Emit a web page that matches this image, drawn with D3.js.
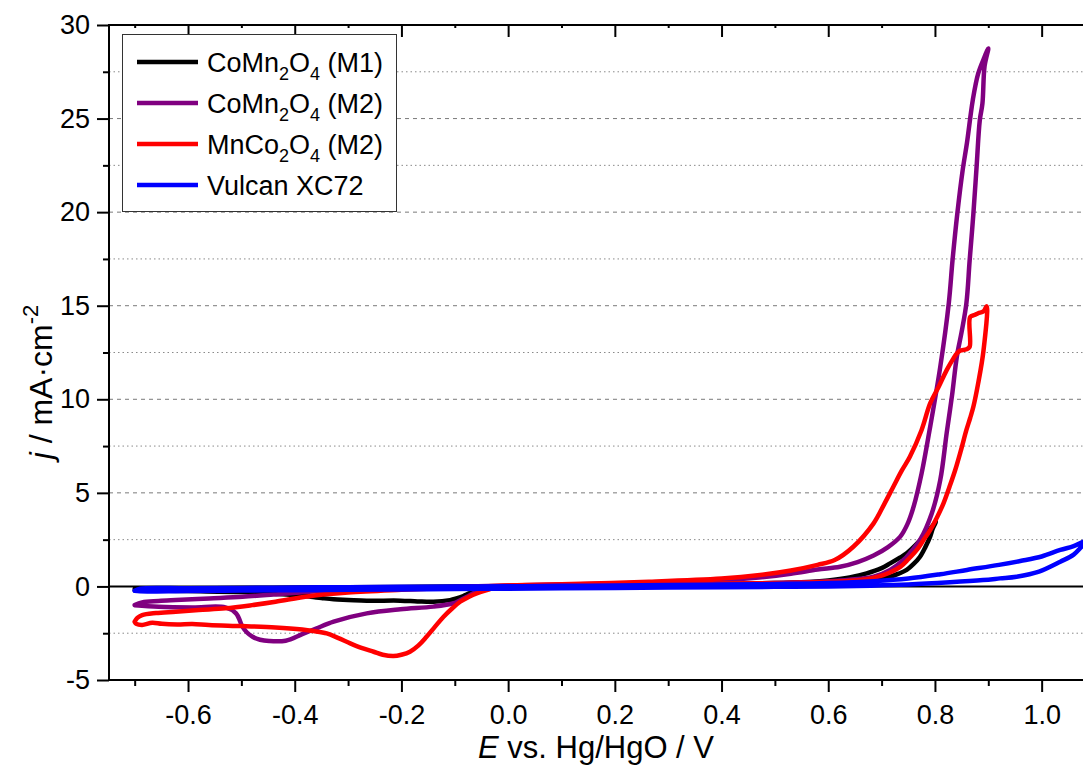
<!DOCTYPE html>
<html>
<head>
<meta charset="utf-8">
<script src="https://cdn.jsdelivr.net/npm/d3@7"></script>
<style>
  html, body { margin: 0; padding: 0; background: #fff; }
  svg { display: block; font-family: Arial, "Liberation Sans", sans-serif; }
</style>
</head>
<body>
<svg id="chart" width="1083" height="769"></svg>
<script>
// ---- Cyclic voltammograms: potential E (V vs. Hg/HgO) and current density j (mA cm^-2)
// Each series is one closed sweep loop, listed in sweep order.

const seriesNames = ["CoMn_2O_4 (M1)", "CoMn_2O_4 (M2)", "MnCo_2O_4 (M2)", "Vulcan XC72"];
const seriesColors = ["#000000", "#800080", "#ff0000", "#0000ff"];

const coMnM1_E = [-0.70, -0.60, -0.50, -0.40, -0.30, -0.20, -0.10, 0.00, 0.10, 0.20, 0.30, 0.40, 0.50, 0.55, 0.60, 0.64, 0.672, 0.70, 0.716, 0.735, 0.747, 0.765, 0.778, 0.79, 0.802,
  0.796, 0.791, 0.782, 0.772, 0.760, 0.747, 0.732, 0.716, 0.695, 0.672, 0.64, 0.60, 0.50, 0.40, 0.30, 0.20, 0.10, 0.00, -0.02, -0.04, -0.059, -0.072, -0.084, -0.097, -0.109, -0.14, -0.17, -0.202, -0.265, -0.30, -0.327, -0.35, -0.37, -0.40, -0.45, -0.50, -0.60, -0.70];
const coMnM1_j = [-0.13, -0.11, -0.09, -0.07, -0.05, -0.03, -0.01, 0.02, 0.04, 0.06, 0.09, 0.12, 0.18, 0.22, 0.32, 0.48, 0.70, 0.98, 1.23, 1.55, 1.77, 2.25, 2.66, 3.05, 3.46,
  3.10, 2.66, 2.10, 1.59, 1.20, 0.88, 0.68, 0.52, 0.38, 0.30, 0.22, 0.17, 0.11, 0.07, 0.04, 0.02, 0.00, -0.02, -0.05, -0.12, -0.23, -0.36, -0.51, -0.64, -0.73, -0.82, -0.80, -0.76, -0.76, -0.72, -0.69, -0.62, -0.55, -0.46, -0.36, -0.30, -0.25, -0.20];

const coMnM2_E = [-0.70, -0.686, -0.655, -0.623, -0.56, -0.498, -0.44, -0.373, -0.30, -0.20, -0.10, 0.00, 0.10, 0.20, 0.30, 0.40, 0.47, 0.53, 0.58, 0.622, 0.655, 0.685, 0.712, 0.735, 0.748, 0.760, 0.775, 0.79, 0.810, 0.826, 0.833, 0.842, 0.852, 0.860, 0.871, 0.881, 0.893, 0.900,
  0.893, 0.889, 0.884, 0.878, 0.872, 0.865, 0.859, 0.850, 0.841, 0.832, 0.822, 0.81, 0.794, 0.772, 0.755, 0.741, 0.716, 0.685, 0.64, 0.60, 0.50, 0.40, 0.30, 0.20, 0.10, 0.00, -0.02, -0.052, -0.065, -0.077, -0.09, -0.102, -0.14, -0.202, -0.265, -0.327, -0.36, -0.386, -0.417, -0.448, -0.465, -0.479, -0.49, -0.498, -0.51, -0.53, -0.592, -0.655, -0.70];
const coMnM2_j = [-1.00, -0.85, -0.78, -0.73, -0.64, -0.55, -0.43, -0.28, -0.18, -0.10, -0.03, 0.05, 0.10, 0.15, 0.22, 0.33, 0.48, 0.68, 0.90, 1.05, 1.30, 1.65, 2.10, 2.66, 3.30, 4.26, 6.04, 8.36, 11.74, 15.15, 17.44, 19.94, 22.25, 23.70, 26.00, 27.40, 28.30, 28.75,
  27.80, 25.80, 24.90, 22.40, 19.90, 17.40, 15.15, 13.60, 12.27, 10.20, 8.20, 5.69, 3.90, 2.48, 1.85, 1.41, 0.88, 0.52, 0.36, 0.28, 0.18, 0.12, 0.08, 0.05, 0.02, 0.00, -0.05, -0.19, -0.36, -0.55, -0.74, -0.90, -1.08, -1.22, -1.44, -1.88, -2.25, -2.55, -2.90, -2.92, -2.85, -2.69, -2.45, -2.15, -1.44, -1.12, -1.12, -1.08, -1.00];

const mnCoM2_E = [-0.70, -0.695, -0.686, -0.66, -0.623, -0.58, -0.53, -0.48, -0.436, -0.373, -0.30, -0.20, -0.10, 0.00, 0.10, 0.264, 0.40, 0.472, 0.53, 0.58, 0.612, 0.647, 0.685, 0.705, 0.722, 0.738, 0.753, 0.775, 0.791, 0.807, 0.822, 0.835, 0.841, 0.847, 0.859, 0.865, 0.866, 0.874, 0.881, 0.891, 0.897,
  0.891, 0.881, 0.872, 0.866, 0.859, 0.848, 0.838, 0.827, 0.816, 0.804, 0.791, 0.778, 0.766, 0.75, 0.735, 0.703, 0.66, 0.60, 0.50, 0.40, 0.30, 0.20, 0.10, 0.022, -0.015, -0.035, -0.059, -0.075, -0.09, -0.105, -0.121, -0.137, -0.153, -0.168, -0.184, -0.20, -0.215, -0.235, -0.252, -0.275, -0.296, -0.318, -0.34, -0.365, -0.386, -0.436, -0.498, -0.561, -0.592, -0.62, -0.649, -0.667, -0.686, -0.697, -0.70];
const mnCoM2_j = [-1.88, -1.68, -1.53, -1.42, -1.35, -1.26, -1.17, -1.00, -0.82, -0.52, -0.33, -0.18, -0.06, 0.05, 0.12, 0.25, 0.42, 0.61, 0.85, 1.15, 1.41, 2.12, 3.37, 4.40, 5.33, 6.20, 6.93, 8.36, 9.78, 10.67, 11.56, 12.20, 12.45, 12.60, 12.67, 12.80, 14.40, 14.50, 14.60, 14.70, 14.97,
  12.60, 10.85, 9.60, 9.00, 8.36, 7.20, 6.22, 5.30, 4.44, 3.70, 3.01, 2.45, 1.95, 1.45, 1.05, 0.61, 0.34, 0.25, 0.18, 0.15, 0.12, 0.10, 0.05, 0.03, -0.02, -0.15, -0.37, -0.58, -0.82, -1.18, -1.62, -2.15, -2.69, -3.15, -3.49, -3.65, -3.72, -3.65, -3.49, -3.28, -3.04, -2.76, -2.51, -2.38, -2.30, -2.19, -2.12, -2.06, -2.01, -2.03, -2.00, -1.94, -2.06, -2.00, -1.90];

const vulcan_E = [-0.70, -0.69, -0.60, -0.50, -0.40, -0.30, -0.20, -0.10, 0.00, 0.10, 0.20, 0.30, 0.40, 0.50, 0.60, 0.685, 0.75, 0.81, 0.86, 0.92, 0.96, 1.00, 1.035, 1.06, 1.078, 1.10,
  1.078, 1.06, 1.035, 0.995, 0.953, 0.922, 0.89, 0.828, 0.75, 0.68, 0.60, 0.50, 0.40, 0.30, 0.20, 0.10, 0.00, -0.10, -0.20, -0.30, -0.40, -0.50, -0.60, -0.69, -0.70];
const vulcan_j = [-0.23, -0.12, -0.10, -0.08, -0.06, -0.04, -0.02, 0.00, 0.01, 0.03, 0.05, 0.07, 0.10, 0.13, 0.18, 0.28, 0.42, 0.65, 0.88, 1.15, 1.36, 1.60, 1.95, 2.15, 2.39, 2.70,
  2.21, 1.70, 1.32, 0.79, 0.52, 0.43, 0.34, 0.22, 0.10, 0.04, 0.00, -0.02, -0.04, -0.06, -0.08, -0.10, -0.12, -0.14, -0.16, -0.18, -0.20, -0.22, -0.24, -0.26, -0.23];

const seriesE = [coMnM1_E, coMnM2_E, mnCoM2_E, vulcan_E];
const seriesJ = [coMnM1_j, coMnM2_j, mnCoM2_j, vulcan_j];

const xMajorTicks = [-0.6, -0.4, -0.2, 0.0, 0.2, 0.4, 0.6, 0.8, 1.0];
const xMinorTicks = [-0.7, -0.5, -0.3, -0.1, 0.1, 0.3, 0.5, 0.7, 0.9, 1.1];
const yMajorTicks = [-5, 0, 5, 10, 15, 20, 25, 30];
const yMinorTicks = [-2.5, 2.5, 7.5, 12.5, 17.5, 22.5, 27.5];

// ---- Layout
const W = 1083, H = 769;
const plot = { left: 109, top: 25, right: 1095, bottom: 680 };

const svg = d3.select("#chart");
const x = d3.scaleLinear().domain([-0.75, 1.1]).range([plot.left - 1, plot.right]);
const y = d3.scaleLinear().domain([-5, 30]).range([plot.bottom, plot.top]);

svg.append("defs").append("clipPath").attr("id", "plotClip")
  .append("rect")
  .attr("x", plot.left).attr("y", plot.top)
  .attr("width", plot.right - plot.left).attr("height", plot.bottom - plot.top);

// ---- Grid lines
const grid = svg.append("g");
grid.selectAll("line.major").data(yMajorTicks.filter(v => v !== 0 && v !== -5 && v !== 30))
  .join("line")
  .attr("x1", plot.left).attr("x2", W)
  .attr("y1", d => y(d)).attr("y2", d => y(d))
  .attr("stroke", "#7a7a7a").attr("stroke-width", 1).attr("stroke-dasharray", "4,4");
grid.selectAll("line.minor").data(yMinorTicks)
  .join("line")
  .attr("x1", plot.left).attr("x2", W)
  .attr("y1", d => y(d)).attr("y2", d => y(d))
  .attr("stroke", "#8a8a8a").attr("stroke-width", 1).attr("stroke-dasharray", "1.5,3");

// zero current baseline
svg.append("line")
  .attr("x1", plot.left).attr("x2", W)
  .attr("y1", y(0)).attr("y2", y(0))
  .attr("stroke", "#000").attr("stroke-width", 2);

// ---- Curves
const line = d3.line()
  .x(d => x(d[0])).y(d => y(d[1]))
  .curve(d3.curveCatmullRom.alpha(0.5));

const curves = svg.append("g").attr("clip-path", "url(#plotClip)");
seriesE.forEach((Es, i) => {
  const pts = Es.map((e, k) => [e, seriesJ[i][k]]);
  curves.append("path")
    .datum(pts)
    .attr("d", line)
    .attr("fill", "none")
    .attr("stroke", seriesColors[i])
    .attr("stroke-width", 4.5)
    .attr("stroke-linejoin", "round")
    .attr("stroke-linecap", "round");
});

// ---- Axes
function styleAxis(g) {
  g.select(".domain").remove();
  g.selectAll(".tick line").attr("stroke", "#000").attr("stroke-width", 2);
  g.selectAll(".tick text").attr("fill", "#000").attr("font-size", 27)
    .attr("font-family", "Arial, 'Liberation Sans', sans-serif");
}

// bottom
const xAxisMajor = svg.append("g").attr("transform", `translate(0,${plot.bottom})`)
  .call(d3.axisBottom(x).tickValues(xMajorTicks).tickSize(12).tickPadding(9)
    .tickFormat(d => d.toFixed(1)));
styleAxis(xAxisMajor);
xAxisMajor.selectAll(".tick text").attr("dy", "0.85em");
const xAxisMinor = svg.append("g").attr("transform", `translate(0,${plot.bottom})`)
  .call(d3.axisBottom(x).tickValues(xMinorTicks).tickSize(6).tickFormat(""));
styleAxis(xAxisMinor);

// top (ticks pointing inward)
const xTopMajor = svg.append("g").attr("transform", `translate(0,${plot.top})`)
  .call(d3.axisBottom(x).tickValues(xMajorTicks).tickSize(12).tickFormat(""));
styleAxis(xTopMajor);
const xTopMinor = svg.append("g").attr("transform", `translate(0,${plot.top})`)
  .call(d3.axisBottom(x).tickValues(xMinorTicks).tickSize(3).tickFormat(""));
styleAxis(xTopMinor);

// left
const yAxisMajor = svg.append("g").attr("transform", `translate(${plot.left},0)`)
  .call(d3.axisLeft(y).tickValues(yMajorTicks).tickSize(12).tickPadding(7)
    .tickFormat(d => String(d)));
styleAxis(yAxisMajor);
const yAxisMinor = svg.append("g").attr("transform", `translate(${plot.left},0)`)
  .call(d3.axisLeft(y).tickValues(yMinorTicks).tickSize(6).tickFormat(""));
styleAxis(yAxisMinor);

// axis lines
svg.append("line").attr("x1", plot.left).attr("x2", plot.left)
  .attr("y1", plot.top - 1).attr("y2", plot.bottom + 1)
  .attr("stroke", "#000").attr("stroke-width", 2);
svg.append("line").attr("x1", plot.left - 1).attr("x2", W)
  .attr("y1", plot.bottom).attr("y2", plot.bottom)
  .attr("stroke", "#000").attr("stroke-width", 2);
svg.append("line").attr("x1", plot.left - 1).attr("x2", W)
  .attr("y1", plot.top).attr("y2", plot.top)
  .attr("stroke", "#000").attr("stroke-width", 2);

// ---- Axis titles
const xTitle = svg.append("text")
  .attr("x", 596).attr("y", 758)
  .attr("text-anchor", "middle")
  .attr("font-size", 31).attr("fill", "#000");
xTitle.append("tspan").attr("font-style", "italic").text("E");
xTitle.append("tspan").text(" vs. Hg/HgO / V");

const yTitle = svg.append("text")
  .attr("transform", "translate(52,382) rotate(-90)")
  .attr("text-anchor", "middle")
  .attr("font-size", 32).attr("fill", "#000");
yTitle.append("tspan").attr("font-style", "italic").text("j");
yTitle.append("tspan").text(" / mA\u00B7cm");
yTitle.append("tspan").attr("font-size", 22).attr("dy", -14).text("-2");

// ---- Legend
const legend = { x: 122, y: 34, w: 274, h: 177, row0: 62, rowStep: 41 };
svg.append("rect")
  .attr("x", legend.x + 0.5).attr("y", legend.y + 0.5)
  .attr("width", legend.w).attr("height", legend.h)
  .attr("fill", "#fff").attr("stroke", "#333").attr("stroke-width", 1);

seriesNames.forEach((name, i) => {
  const cy = legend.row0 + i * legend.rowStep;
  svg.append("line")
    .attr("x1", 137).attr("x2", 198)
    .attr("y1", cy).attr("y2", cy)
    .attr("stroke", seriesColors[i]).attr("stroke-width", 4.5);
  const t = svg.append("text")
    .attr("x", 207).attr("y", cy + 10)
    .attr("font-size", 27).attr("fill", "#000");
  // "_d" marks a subscript digit
  const parts = name.split(/(_\d)/).filter(s => s.length);
  let sub = false;
  parts.forEach(p => {
    if (p.startsWith("_")) {
      t.append("tspan").attr("font-size", 18).attr("dy", 8).text(p.slice(1));
      sub = true;
    } else {
      const ts = t.append("tspan").text(p);
      if (sub) { ts.attr("dy", -8); sub = false; }
    }
  });
});
</script>
</body>
</html>
